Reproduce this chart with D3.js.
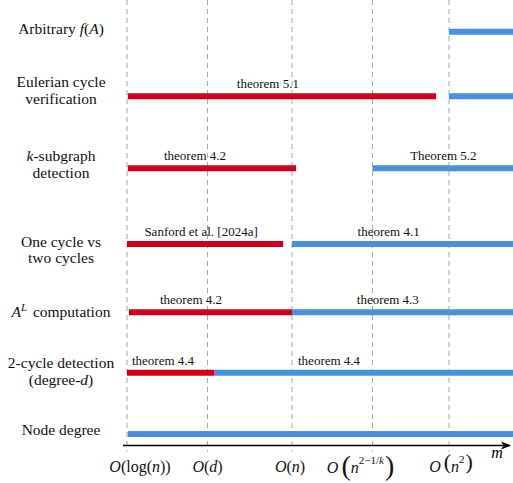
<!DOCTYPE html>
<html>
<head>
<meta charset="utf-8">
<script src="https://cdn.jsdelivr.net/npm/d3@7"></script>
<style>
  body { margin: 0; background: #fff; }
</style>
</head>
<body>
<div id="chart"></div>
<script>
// rows, top to bottom ($..$ = italic, ^X = superscript)
const categories = [
    ["Arbitrary $f$($A$)"],
    ["Eulerian cycle", "verification"],
    ["$k$-subgraph", "detection"],
    ["One cycle vs", "two cycles"],
    ["$A^L$ computation"],
    ["2-cycle detection", "(degree-$d$)"],
    ["Node degree"]
];
const rowLevel = [6.5, 5.49, 4.36, 3.17, 2.10, 1.15, 0.19];

// complexity axis: tick positions in "m" units
const tickValues = [0, 1, 2.05, 3.05, 4];

// [row, from, to, label, labelAt]
const lowerBounds = [
    [1, 0.01, 3.84, "theorem 5.1", 1.75],
    [2, 0.01, 2.10, "theorem 4.2", 0.845],
    [3, 0, 1.94, "Sanford et al. [2024a]", 0.92],
    [4, 0.025, 2.05, "theorem 4.2", 0.795],
    [5, 0, 1.085, "theorem 4.4", 0.447]
];
const upperBounds = [
    [0, 4.0, 4.8, "", 0],
    [1, 4.0, 4.8, "", 0],
    [2, 3.05, 4.8, "Theorem 5.2", 3.93],
    [3, 2.05, 4.8, "theorem 4.1", 3.25],
    [4, 2.05, 4.8, "theorem 4.3", 3.24],
    [5, 1.085, 4.8, "theorem 4.4", 2.51],
    [6, 0.01, 4.8, "", 0]
];

const svgWidth = 513;
const svgHeight = 483;
const red = "#d0021b";
const blue = "#4a90e2";
const serif = "'Liberation Serif', 'Times New Roman', Times, serif";

const svg = d3.select("#chart")
.append("svg")
.attr("width", svgWidth)
.attr("height", svgHeight)
.attr("font-family", serif);

const x = d3.scaleLinear().domain([0, 4.8]).range([127, 513.4]);
const y = d3.scaleLinear().domain([0, 7]).range([446, 0]);
const axisY = y(0) - 0.5;

// write "$..$"-marked text as tspans
function richText(sel, str, size) {
    let pendingDy = 0;
    const add = (txt, italic) => {
        if (!txt) return null;
        const ts = sel.append("tspan").text(txt);
        if (italic) ts.attr("font-style", "italic");
        if (pendingDy) { ts.attr("dy", pendingDy).attr("dx", 2); pendingDy = 0; }
        return ts;
    };
    str.split("$").forEach((part, i) => {
        if (i % 2 === 0) { add(part, false); return; }
        const m = part.split("^");
        add(m[0], true);
        if (m.length > 1) {
            sel.append("tspan").attr("font-style", "italic")
            .attr("font-size", size * 0.7).attr("dy", -size * 0.4).text(m[1]);
            pendingDy = size * 0.4;
        }
    });
}

// dashed gridlines
svg.append("g").selectAll("line")
.data(tickValues)
.enter()
.append("line")
.attr("x1", d => x(d)).attr("x2", d => x(d))
.attr("y1", 0).attr("y2", axisY + 6)
.attr("stroke", "#a8a8a8")
.attr("stroke-width", 1)
.attr("stroke-dasharray", "5,4");

// bars
function drawBars(data, color) {
    const g = svg.append("g");
    g.selectAll("line")
    .data(data)
    .enter()
    .append("line")
    .attr("x1", d => x(d[1])).attr("x2", d => x(d[2]))
    .attr("y1", d => y(rowLevel[d[0]])).attr("y2", d => y(rowLevel[d[0]]))
    .attr("stroke", color)
    .attr("stroke-width", 6);

    g.selectAll("text")
    .data(data.filter(d => d[3]))
    .enter()
    .append("text")
    .attr("x", d => x(d[4]))
    .attr("y", d => y(rowLevel[d[0]]) - 8)
    .attr("text-anchor", "middle")
    .attr("font-family", serif)
    .attr("font-size", 13)
    .attr("fill", "#111")
    .text(d => d[3]);
}
drawBars(upperBounds, blue);
drawBars(lowerBounds, red);

// row labels (label block centre relative to its bar, px)
const catSize = 15.5;
const labelShift = [-3, -6, -4, 6, 0, -1.5, -3.5];
categories.forEach((lines, i) => {
    const cy = y(rowLevel[i]) + labelShift[i];
    lines.forEach((ln, j) => {
        const t = svg.append("text")
        .attr("x", 61)
        .attr("y", cy + 5 + (j - (lines.length - 1) / 2) * 16.6)
        .attr("text-anchor", "middle")
        .attr("font-family", serif)
        .attr("font-size", catSize)
        .attr("fill", "#111");
        richText(t, ln, catSize);
    });
});

// axis with arrow
svg.append("defs").append("marker")
.attr("id", "arrow")
.attr("viewBox", "0 0 10 10")
.attr("refX", 9).attr("refY", 5)
.attr("markerWidth", 10).attr("markerHeight", 10)
.attr("markerUnits", "userSpaceOnUse")
.attr("orient", "auto")
.append("path")
.attr("d", "M0,1 L10,5 L0,9 L2.5,5 Z")
.attr("fill", "#000");

svg.append("line")
.attr("x1", 123).attr("x2", 510)
.attr("y1", axisY).attr("y2", axisY)
.attr("stroke", "#000")
.attr("stroke-width", 1.5)
.attr("marker-end", "url(#arrow)");

svg.append("text")
.attr("x", 497).attr("y", axisY + 12)
.attr("font-family", serif)
.attr("font-style", "italic")
.attr("font-size", 16)
.attr("text-anchor", "middle")
.text("m");

// tick labels
const tickSize = 16;
const tickDx = [13, 0, -2, -12, 2];
const tickG = svg.append("g").attr("font-family", serif).attr("fill", "#111");
tickValues.forEach((v, i) => {
    const base = axisY + 26 + (i === 3 ? 1 : 0);
    const t = tickG.append("text")
    .attr("x", x(v) + tickDx[i])
    .attr("y", base)
    .attr("text-anchor", "middle")
    .attr("font-family", serif)
    .attr("font-size", tickSize);
    t.append("tspan").attr("font-style", "italic").text("O");
    if (i === 0) {
        t.append("tspan").text("(log(");
        t.append("tspan").attr("font-style", "italic").text("n");
        t.append("tspan").text("))");
    } else if (i === 1 || i === 2) {
        t.append("tspan").text("(");
        t.append("tspan").attr("font-style", "italic").text(i === 1 ? "d" : "n");
        t.append("tspan").text(")");
    } else {
        const big = i === 3 ? 28 : 22;
        const lift = i === 3 ? 2.5 : -3;
        t.append("tspan").attr("font-size", big).attr("font-weight", 200)
        .attr("dx", 3).attr("dy", lift).text("(");
        t.append("tspan").attr("font-style", "italic").attr("dy", -lift).text("n");
        if (i === 3) {
            t.append("tspan").attr("font-size", 11).attr("dy", -9).text("2−1/");
            t.append("tspan").attr("font-size", 11).attr("font-style", "italic").text("k");
        } else {
            t.append("tspan").attr("font-size", 11).attr("dy", -9).text("2");
        }
        t.append("tspan").attr("font-size", big).attr("dx", 1).attr("dy", 9 + lift).text(")");
    }
});
</script>
</body>
</html>
